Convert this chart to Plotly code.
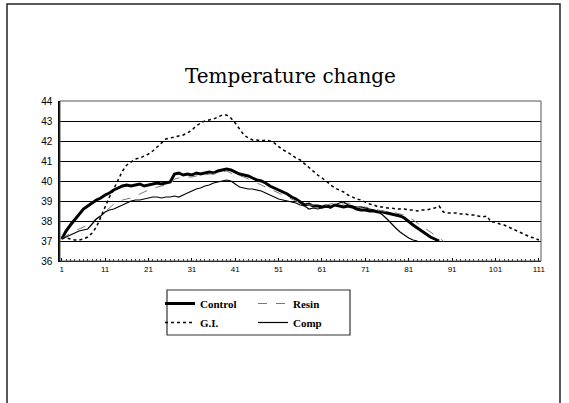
import plotly.graph_objects as go

control = [37.1, 37.5, 37.8, 38.05, 38.3, 38.6, 38.75, 38.9, 39.05, 39.15,
           39.3, 39.4, 39.55, 39.65, 39.75, 39.8, 39.75, 39.8, 39.85, 39.75,
           39.8, 39.85, 39.9, 39.85, 39.9, 39.95, 40.35, 40.4, 40.3, 40.35,
           40.3, 40.4, 40.35, 40.4, 40.45, 40.4, 40.5, 40.55, 40.6, 40.55,
           40.45, 40.35, 40.3, 40.25, 40.15, 40.05, 40.0, 39.9, 39.75, 39.65,
           39.55, 39.45, 39.35, 39.2, 39.1, 38.95, 38.8, 38.85, 38.75, 38.75,
           38.7, 38.75, 38.7, 38.8, 38.75, 38.7, 38.75, 38.7, 38.6, 38.55,
           38.55, 38.5, 38.5, 38.45, 38.45, 38.4, 38.35, 38.3, 38.25, 38.15,
           37.95, 37.8, 37.65, 37.5, 37.35, 37.2, 37.1, 37.0]

resin = [37.1, 37.25, 37.4, 37.5, 37.6, 37.7, 37.8, 37.95, 38.15, 38.3,
         38.45, 38.65, 38.85, 38.95, 39.05, 39.1, 39.15, 39.25, 39.35, 39.45,
         39.55, 39.6, 39.7, 39.75, 39.8, 39.85, 40.1, 40.15, 40.2, 40.2,
         40.2, 40.25, 40.3, 40.3, 40.35, 40.35, 40.4, 40.45, 40.5, 40.4,
         40.3, 40.25, 40.2, 40.1, 40.0, 39.9, 39.8, 39.7, 39.6, 39.5,
         39.4, 39.3, 39.2, 39.1, 39.0, 38.9, 38.85, 38.8, 38.8, 38.85,
         38.85, 38.8, 38.85, 38.9, 38.85, 38.85, 38.9, 38.8, 38.75, 38.7,
         38.7, 38.65, 38.6, 38.55, 38.5, 38.45, 38.45, 38.4, 38.35, 38.3,
         38.2, 38.05, 37.9, 37.75, 37.6, 37.45, 37.3, 37.15, 37.0]

gi = [37.2, 37.15, 37.1, 37.05, 37.05, 37.1, 37.2, 37.4, 37.7, 38.2,
      38.7, 39.2, 39.6, 40.05, 40.5, 40.8, 40.95, 41.1, 41.15, 41.25,
      41.35, 41.5, 41.7, 41.95, 42.1, 42.15, 42.2, 42.25, 42.3, 42.4,
      42.55, 42.75, 42.9, 43.0, 43.05, 43.1, 43.2, 43.3, 43.3, 43.15,
      42.9, 42.6, 42.3, 42.15, 42.05, 42.05, 42.0, 42.05, 42.0, 41.9,
      41.7, 41.55, 41.45, 41.3, 41.15, 41.05, 40.85, 40.65, 40.45, 40.3,
      40.15, 40.0, 39.8, 39.65, 39.55, 39.45, 39.3, 39.2, 39.1, 39.05,
      38.95, 38.85, 38.8, 38.7, 38.7, 38.65, 38.65, 38.6, 38.6, 38.6,
      38.55, 38.55, 38.5, 38.55, 38.55, 38.6, 38.65, 38.75, 38.45, 38.4,
      38.4, 38.4, 38.35, 38.35, 38.3, 38.3, 38.25, 38.2, 38.25, 37.95,
      37.95, 37.85, 37.8, 37.7, 37.6, 37.5, 37.4, 37.3, 37.2, 37.15,
      37.05]

comp = [37.1, 37.2, 37.3, 37.4, 37.5, 37.55, 37.6, 37.85, 38.1, 38.25,
        38.45, 38.55, 38.6, 38.7, 38.8, 38.9, 39.0, 39.05, 39.05, 39.1,
        39.15, 39.2, 39.2, 39.15, 39.2, 39.2, 39.25, 39.2, 39.3, 39.4,
        39.5, 39.6, 39.65, 39.75, 39.8, 39.9, 39.95, 40.0, 40.05, 40.0,
        39.85, 39.7, 39.65, 39.6, 39.6, 39.55, 39.5, 39.4, 39.3, 39.2,
        39.1, 39.05, 39.0, 38.95, 38.9, 38.8, 38.75, 38.6, 38.65, 38.6,
        38.65, 38.7, 38.65, 38.8, 38.9, 38.95, 38.8, 38.75, 38.7, 38.7,
        38.65, 38.6, 38.55, 38.45, 38.3, 38.1, 37.85, 37.65, 37.45, 37.3,
        37.15, 37.05, 37.0]

x_ticks = [1, 11, 21, 31, 41, 51, 61, 71, 81, 91, 101, 111]
y_ticks = [36, 37, 38, 39, 40, 41, 42, 43, 44]
title_text = "Temperature change"

def idx(vals):
    return list(range(1, len(vals) + 1))

fig = go.Figure()
fig.add_trace(go.Scatter(x=idx(control), y=control, name="Control", mode="lines",
                         line=dict(color="black", width=3), legend="legend"))
fig.add_trace(go.Scatter(x=idx(gi), y=gi, name="G.I.", mode="lines",
                         line=dict(color="black", width=1.5, dash="dot"), legend="legend"))
fig.add_trace(go.Scatter(x=idx(resin), y=resin, name="Resin", mode="lines",
                         line=dict(color="#777777", width=1, dash="dash"), legend="legend2"))
fig.add_trace(go.Scatter(x=idx(comp), y=comp, name="Comp", mode="lines",
                         line=dict(color="black", width=1.2), legend="legend2"))

PL, PR, PT, PB = 60, 541, 101, 261
W, H = 569, 403
pw, ph = PR - PL, PB - PT

def px(xp):
    return (xp - PL) / pw

def py(yp):
    return (PB - yp) / ph

legend_font = dict(family="Liberation Serif, DejaVu Serif, serif", size=11,
                   color="black", weight="bold")

fig.update_layout(
    width=W, height=H,
    margin=dict(l=PL, r=W - PR, t=PT, b=H - PB),
    paper_bgcolor="white", plot_bgcolor="white",
    showlegend=True,
    legend=dict(x=px(160), y=py(289), xanchor="left", yanchor="top",
                font=legend_font, bgcolor="rgba(0,0,0,0)", tracegroupgap=0,
                itemwidth=30),
    legend2=dict(x=px(253), y=py(289), xanchor="left", yanchor="top",
                 font=legend_font, bgcolor="rgba(0,0,0,0)", tracegroupgap=0,
                 itemwidth=30),
    xaxis=dict(range=[0.6, 111.5], tickmode="array", tickvals=x_ticks,
               ticktext=[str(v) for v in x_ticks],
               showgrid=False, zeroline=False,
               showline=True, linecolor="black", linewidth=1, mirror=False,
               ticks="inside", ticklen=3, tickcolor="black",
               minor=dict(dtick=1, tick0=1, ticks="inside", ticklen=2, tickcolor="#444444"),
               tickfont=dict(family="Liberation Sans Narrow, Liberation Sans, Arial", size=8, color="black")),
    yaxis=dict(range=[36, 44], tickmode="array", tickvals=y_ticks,
               showgrid=True, gridcolor="black", gridwidth=1, zeroline=False,
               showline=True, linecolor="black", linewidth=1.5,
               ticks="", ticklabelstandoff=4,
               tickfont=dict(family="Liberation Sans Narrow, Liberation Sans, Arial", size=10, color="black")),
    annotations=[dict(text=title_text, xref="paper", yref="paper",
                      x=px(290), y=py(76), xanchor="center", yanchor="middle",
                      showarrow=False,
                      font=dict(family="DejaVu Serif, Liberation Serif, serif", size=20, color="black"))],
    shapes=[
        dict(type="rect", xref="paper", yref="paper", x0=0, x1=1, y0=0, y1=1,
             line=dict(color="#555555", width=1)),
        dict(type="rect", xref="paper", yref="paper", x0=px(167), x1=px(350),
             y0=py(335), y1=py(290), line=dict(color="#333333", width=1.2)),
        dict(type="rect", xref="paper", yref="paper", x0=px(7), x1=px(560),
             y0=py(415), y1=py(4), line=dict(color="#222222", width=1.5)),
    ],
)

fig.write_html("out.html", config={"displayModeBar": False},
               post_script="document.body.style.margin='0';")
